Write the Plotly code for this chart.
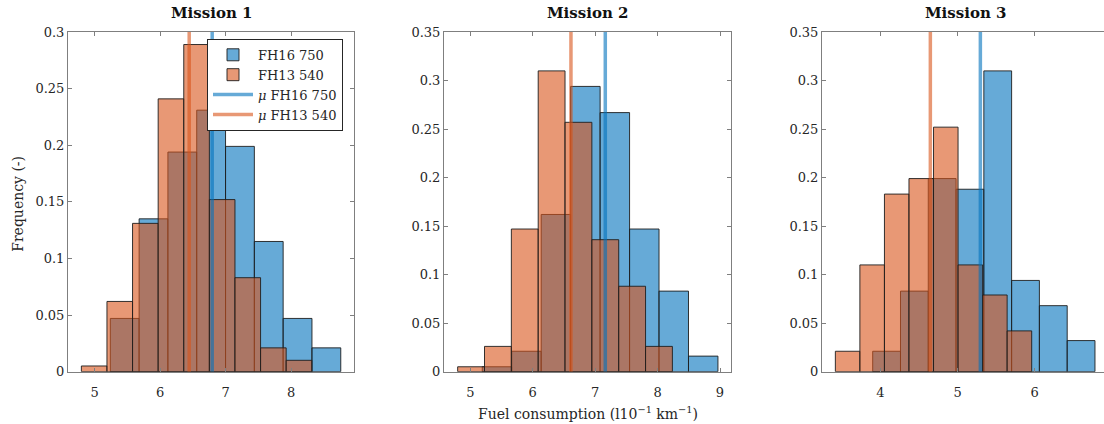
import plotly.graph_objects as go

# ---------------- data ----------------
missions = ["Mission 1", "Mission 2", "Mission 3"]
series_names = ["FH16 750", "FH13 540"]

# histogram bin start (left edge) and bin width per mission
fh16_start = [5.239, 5.191, 3.901]
fh16_width = [0.440, 0.472, 0.360]
fh13_start = [4.797, 4.797, 3.417]
fh13_width = [0.391, 0.430, 0.318]

# relative frequencies per bin
fh16_m1 = [0.047, 0.135, 0.194, 0.231, 0.199, 0.115, 0.047, 0.021]
fh13_m1 = [0.005, 0.062, 0.131, 0.241, 0.289, 0.152, 0.083, 0.021, 0.010]
fh16_m2 = [0.005, 0.021, 0.162, 0.294, 0.267, 0.147, 0.083, 0.016]
fh13_m2 = [0.005, 0.026, 0.147, 0.310, 0.257, 0.136, 0.088, 0.026]
fh16_m3 = [0.021, 0.083, 0.199, 0.188, 0.310, 0.094, 0.068, 0.032]
fh13_m3 = [0.021, 0.110, 0.183, 0.199, 0.252, 0.110, 0.079, 0.042]

fh16_vals = [fh16_m1, fh16_m2, fh16_m3]
fh13_vals = [fh13_m1, fh13_m2, fh13_m3]

# means
fh16_mean = [6.795, 7.162, 5.296]
fh13_mean = [6.444, 6.612, 4.648]

# axis limits / ticks
x_ranges = [[4.593, 8.961], [4.578, 9.176], [3.244, 6.898]]
x_ticks = [[5, 6, 7, 8], [5, 6, 7, 8, 9], [4, 5, 6]]
y_max = [0.3, 0.35, 0.35]
y_ticks = [[0, 0.05, 0.1, 0.15, 0.2, 0.25, 0.3],
           [0, 0.05, 0.1, 0.15, 0.2, 0.25, 0.3, 0.35],
           [0, 0.05, 0.1, 0.15, 0.2, 0.25, 0.3, 0.35]]

# ---------------- style ----------------
W, H = 1104, 424
FONT = "DejaVu Serif"
TXT = "#262626"
FRAME = "#7f7f7f"
BLUE_FILL = "rgba(0,114,189,0.6)"
ORANGE_FILL = "rgba(217,83,25,0.6)"
BLUE_LINE = "rgba(0,114,189,0.6)"
ORANGE_LINE = "rgba(217,83,25,0.6)"
EDGE = "rgba(30,30,30,0.9)"

x_domains = [[68 / W, 354 / W], [444 / W, 731 / W], [822 / W, 1.0]]
y_domain = [1 - 378 / H, 1 - 26 / H]

fig = go.Figure()

for i in range(3):
    xa = "x" if i == 0 else f"x{i+1}"
    ya = "y" if i == 0 else f"y{i+1}"
    show = (i == 0)
    for vals, start, width, fill, name in [
        (fh16_vals[i], fh16_start[i], fh16_width[i], BLUE_FILL, series_names[0]),
        (fh13_vals[i], fh13_start[i], fh13_width[i], ORANGE_FILL, series_names[1]),
    ]:
        centers = [start + (k + 0.5) * width for k in range(len(vals))]
        fig.add_trace(go.Bar(
            x=centers, y=vals, width=width,
            marker=dict(color=fill, line=dict(color=EDGE, width=1)),
            name=name, showlegend=show, legendgroup=name,
            xaxis=xa, yaxis=ya,
        ))
    for m, col, name in [(fh16_mean[i], BLUE_LINE, series_names[0]),
                         (fh13_mean[i], ORANGE_LINE, series_names[1])]:
        fig.add_trace(go.Scatter(
            x=[m, m], y=[0, y_max[i]], mode="lines",
            line=dict(color=col, width=3.5),
            name=f"<i>μ</i> {name}", showlegend=show,
            xaxis=xa, yaxis=ya,
        ))

layout = dict(
    width=W, height=H,
    margin=dict(l=0, r=0, t=0, b=0),
    paper_bgcolor="white", plot_bgcolor="white",
    barmode="overlay",
    font=dict(family=FONT, size=13, color=TXT),
    showlegend=True,
    legend=dict(
        x=207 / W, y=1 - 33 / H, xanchor="left", yanchor="top",
        bgcolor="white", bordercolor="#262626", borderwidth=1,
        font=dict(family=FONT, size=13, color=TXT),
        tracegroupgap=0, itemwidth=40,
    ),
    annotations=[],
)

for i in range(3):
    sx = "" if i == 0 else str(i + 1)
    layout[f"xaxis{sx}"] = dict(
        domain=x_domains[i], anchor=f"y{sx}", range=x_ranges[i],
        tickvals=x_ticks[i], ticks="inside", ticklen=4, tickcolor=FRAME,
        ticklabelstandoff=9,
        showline=True, linecolor=FRAME, linewidth=1, mirror="allticks",
        showgrid=False, zeroline=False,
        tickfont=dict(family=FONT, size=13, color=TXT),
    )
    layout[f"yaxis{sx}"] = dict(
        domain=y_domain, anchor=f"x{sx}", range=[0, y_max[i]],
        tickvals=y_ticks[i], ticktext=[f"{v:g}" for v in y_ticks[i]],
        ticks="inside", ticklen=4, tickcolor=FRAME,
        showline=True, linecolor=FRAME, linewidth=1,
        mirror=("allticks" if i < 2 else False),
        showgrid=False, zeroline=False,
        tickfont=dict(family=FONT, size=13, color=TXT),
    )
    layout["annotations"].append(dict(
        text=f"<b>{missions[i]}</b>", xref="paper", yref="paper",
        x=sum(x_domains[i]) / 2 if i < 2 else (822 + 287 / 2) / W,
        y=1 - 6 / H, xanchor="center", yanchor="middle",
        showarrow=False, font=dict(family=FONT, size=15, color="#111111"),
    ))

layout["annotations"].append(dict(
    text="Fuel consumption (l10<sup>−1</sup> km<sup>−1</sup>)",
    xref="paper", yref="paper", x=587.5 / W, y=1 - 421 / H,
    xanchor="center", yanchor="middle", showarrow=False,
    font=dict(family=FONT, size=14, color=TXT),
))
layout["annotations"].append(dict(
    text="Frequency (-)", xref="paper", yref="paper",
    x=18 / W, y=1 - 204 / H, xanchor="center", yanchor="middle",
    textangle=-90, showarrow=False,
    font=dict(family=FONT, size=14, color=TXT),
))

fig.update_layout(**layout)
fig.write_html(
    "out.html",
    config={"displayModeBar": False},
    post_script="document.body.style.margin='0';document.body.style.overflow='hidden';",
)
